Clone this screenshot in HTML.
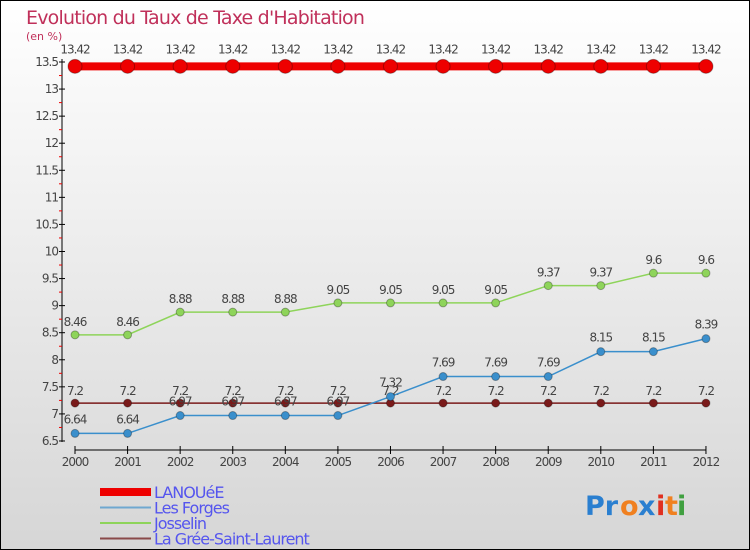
<!DOCTYPE html>
<html><head><meta charset="utf-8"><style>
body{margin:0}
svg{display:block;font-family:"DejaVu Sans","Liberation Sans",sans-serif}
</style></head><body>
<svg width="750" height="550" viewBox="0 0 750 550">
<defs><linearGradient id="bg" x1="0" y1="0" x2="0" y2="1"><stop offset="0" stop-color="#ffffff"/><stop offset="1" stop-color="#d6d6d6"/></linearGradient></defs>
<rect x="0.5" y="0.5" width="749" height="549" fill="url(#bg)" stroke="#000"/>
<text x="26" y="24" font-size="19" fill="#c0305a" letter-spacing="-0.8">Evolution du Taux de Taxe d'Habitation</text>
<text x="26" y="40" font-size="11" fill="#c0305a">(en %)</text>
<g id="axes"></g>
<g id="series"></g>
<g id="legend"></g>
<g font-size="27" font-weight="bold">
<text x="585" y="515" fill="#2a7fd0">Pr</text><text x="620" y="515" fill="#f08020">o</text><text x="638" y="515" fill="#2a7fd0">x</text><text x="656" y="515" fill="#e03020">i</text><text x="665" y="515" fill="#f08020">t</text><text x="677" y="515" fill="#40a040">i</text>
</g>
</svg>
<script>
const years=[2000,2001,2002,2003,2004,2005,2006,2007,2008,2009,2010,2011,2012];
const yTicks=[6.5,7,7.5,8,8.5,9,9.5,10,10.5,11,11.5,12,12.5,13,13.5];
const seriesNames=["LANOUéE","Les Forges","Josselin","La Grée-Saint-Laurent"];
const lanouee=[13.42,13.42,13.42,13.42,13.42,13.42,13.42,13.42,13.42,13.42,13.42,13.42,13.42];
const lesForges=[6.64,6.64,6.97,6.97,6.97,6.97,7.32,7.69,7.69,7.69,8.15,8.15,8.39];
const josselin=[8.46,8.46,8.88,8.88,8.88,9.05,9.05,9.05,9.05,9.37,9.37,9.6,9.6];
const greeSaint=[7.2,7.2,7.2,7.2,7.2,7.2,7.2,7.2,7.2,7.2,7.2,7.2,7.2];
const NS="http://www.w3.org/2000/svg";
const xS=i=>75+i*52.58;
const yS=v=>62+(13.5-v)*54.14;
function mk(tag,attrs,parent,text){const e=document.createElementNS(NS,tag);for(const k in attrs)e.setAttribute(k,attrs[k]);if(text!==undefined)e.textContent=text;parent.appendChild(e);return e;}
const ax=document.getElementById('axes');
let a=mk('line',{x1:62,y1:59,x2:62,y2:442,stroke:'#000'},ax);


yTicks.forEach(v=>{
 mk('line',{x1:59,y1:yS(v),x2:65,y2:yS(v),stroke:'#000'},ax);
 if(v<13.5) mk('line',{x1:59,y1:yS(v+0.25),x2:62,y2:yS(v+0.25),stroke:'#e00'},ax);
 const t=mk('text',{x:58,y:yS(v)+4,'font-size':12,fill:'#444','text-anchor':'end','letter-spacing':'-1'},ax,String(v));
 
 
});
a=mk('line',{x1:75,y1:450,x2:706,y2:450,stroke:'#000'},ax);


years.forEach((y,i)=>{
 mk('line',{x1:xS(i),y1:446,x2:xS(i),y2:454,stroke:'#000'},ax);
 const t=mk('text',{x:xS(i),y:466,'font-size':12,fill:'#444','text-anchor':'middle','letter-spacing':'-1'},ax,String(y));
 
 
});
const sg=document.getElementById('series');
function draw(vals,color,width,r,name,labelDy){
 const g=mk('g',{},sg);
 
 
 mk('polyline',{points:vals.map((v,i)=>xS(i)+','+yS(v)).join(' '),fill:'none',stroke:color,'stroke-width':width},g);
 vals.forEach((v,i)=>{
  const c=mk('circle',{cx:xS(i),cy:yS(v),r:r,fill:color,stroke:'rgba(0,0,0,0.3)'},g);
  
  
  mk('text',{x:xS(i),y:yS(v)+labelDy,'font-size':12,fill:'#444','text-anchor':'middle','letter-spacing':'-1'},g,String(v));
 });
}
draw(greeSaint,'#7a1a1a',1.5,4,'series-la-gree',-8);
draw(lesForges,'#3a8fcc',1.5,4,'series-les-forges',-10);
draw(josselin,'#8ed45a',1.5,4,'series-josselin',-9);
draw(lanouee,'#ee0000',8,7,'series-lanouee',-13);
const lg=document.getElementById('legend');
const lcol=['#ee0000','#6fa8d0','#8ed45a','#8a4a4a'],lw=[8,2,2,2];
seriesNames.forEach((n,i)=>{
 const y=492+i*15.5;
 const g=mk('g',{},lg);
 
 
 mk('line',{x1:100,y1:y,x2:151,y2:y,stroke:lcol[i],'stroke-width':lw[i]},g);
 mk('text',{x:154,y:y+6,'font-size':16,fill:'#5555ee','letter-spacing':'-1'},g,n);
});
</script>
</body></html>
